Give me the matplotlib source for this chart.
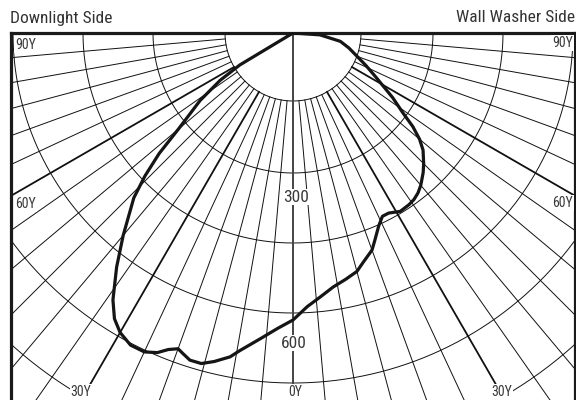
import numpy as np
import matplotlib.pyplot as plt

# luminous intensity distribution, angle from nadir (deg, + = wall washer side) and cd
angles = [90, 86, 80, 75, 70, 66, 62, 57, 54, 52, 50, 48, 45, 43, 40, 38, 36, 34,
          31, 28, 26, 24, 21.5, 20, 17, 15, 12, 9, 6, 3, 0, -3, -6, -9.5, -11,
          -13.5, -15.5, -17.5, -19, -20, -21.5, -23, -25, -27.5, -30, -32, -34,
          -37, -40, -44, -46, -48, -50, -54, -57, -59, -61]
intensity = [0, 58, 103, 124, 146, 171, 201, 255, 291, 326, 354, 375, 396, 409,
             426, 435, 441, 444, 446, 437, 437, 452, 478, 495, 514, 529, 540, 551,
             568, 587, 615, 634, 658, 690, 707, 724, 735, 735, 726, 720, 729, 744,
             754, 754, 741, 722, 690, 628, 566, 491, 441, 386, 321, 246, 186, 133, 0]

ring_step = 150          # cd per ring
scale_labels = [300, 600]
angle_labels = ["90Y", "60Y", "30Y", "0Y"]

px = 70.0 / ring_step    # drawing units per cd

fig = plt.figure(figsize=(5.76, 4.0), dpi=100)
ax = fig.add_axes([11 / 576, 0, 564 / 576, 367 / 400])
ax.set_xlim(-282, 282)
ax.set_ylim(-367, 0)
ax.set_xticks([])
ax.set_yticks([])
for s in ["top", "left", "right"]:
    ax.spines[s].set_linewidth(2.3)
    ax.spines[s].set_color("#1a1a1a")
ax.spines["bottom"].set_visible(False)

def pol(theta_deg, r):
    t = np.radians(np.asarray(theta_deg, dtype=float))
    r = np.asarray(r, dtype=float)
    return r * np.sin(t), -r * np.cos(t)

# rings
th = np.linspace(-90, 90, 361)
x, y = pol(th, np.full_like(th, 68.0))
ax.plot(x, y, color="#111", lw=0.7)
for k in range(2, 10):
    x, y = pol(th, np.full_like(th, k * 70.0))
    ax.plot(x, y, color="#111", lw=0.7)

# radial lines every 5 deg
for a in range(-85, 90, 5):
    if a == 0:
        continue
    x, y = pol([a, a], [68, 700])
    lw = 1.3 if abs(a) in (30, 60) else 0.7
    ax.plot(x, y, color="#111", lw=lw)

# centre line
ax.plot([0, 0], [0, -367], color="#444", lw=1.4)

# curve
cx, cy = pol(angles, np.array(intensity) * px)
ax.plot(cx, cy, color="#151515", lw=2.3, solid_joinstyle="round", zorder=5)

fnt = ["Liberation Sans Narrow", "Roboto Condensed", "Roboto", "DejaVu Sans"]
box = dict(facecolor="white", edgecolor="none", pad=0.6)
tc = "#3a3a3a"

# intensity scale labels
ax.text(3, -164, str(scale_labels[0]), ha="center", va="center", fontsize=12.5,
        family=fnt, color=tc, bbox=box, zorder=4)
ax.text(1, -310, str(scale_labels[1]), ha="center", va="center", fontsize=12.5,
        family=fnt, color=tc, bbox=box, zorder=4)

# angle labels
ax.text(-278, -12, angle_labels[0], ha="left", va="center", fontsize=10, family=fnt, color=tc, bbox=box, zorder=4)
ax.text(280, -10, angle_labels[0], ha="right", va="center", fontsize=10, family=fnt, color=tc, bbox=box, zorder=4)
ax.text(-278, -171, angle_labels[1], ha="left", va="center", fontsize=10, family=fnt, color=tc, bbox=box, zorder=4)
ax.text(280, -170, angle_labels[1], ha="right", va="center", fontsize=10, family=fnt, color=tc, bbox=box, zorder=4)
ax.text(-212, -359, angle_labels[2], ha="center", va="center", fontsize=10, family=fnt, color=tc, bbox=box, zorder=4)
ax.text(209, -359, angle_labels[2], ha="center", va="center", fontsize=10, family=fnt, color=tc, bbox=box, zorder=4)
ax.text(2, -359, angle_labels[3], ha="center", va="center", fontsize=10, family=fnt, color=tc, bbox=box, zorder=4)

fig.text(10 / 576, 1 - 18 / 400, "Downlight Side", ha="left", va="center",
         fontsize=12.5, family=fnt, color="#333")
fig.text(575 / 576, 1 - 18 / 400, "Wall Washer Side", ha="right", va="center",
         fontsize=12.5, family=fnt, color="#333")

fig.savefig("out.png", dpi=100)
